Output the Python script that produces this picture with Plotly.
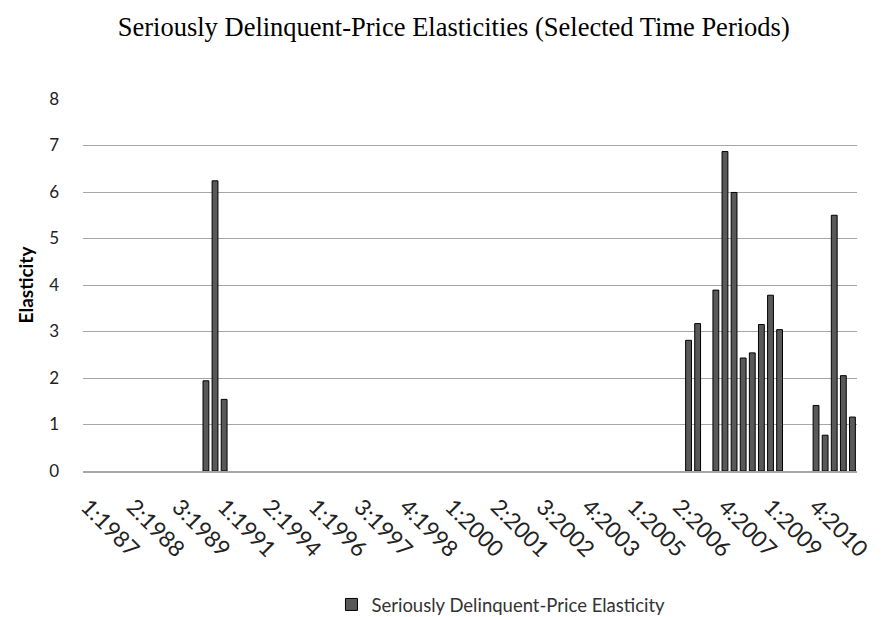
import plotly.graph_objects as go

# Tick labels shown on the category axis (every 5th period)
tick_labels = ["1:1987", "2:1988", "3:1989", "1:1991", "2:1994", "1:1996", "3:1997",
               "4:1998", "1:2000", "2:2001", "3:2002", "4:2003", "1:2005", "2:2006",
               "4:2007", "1:2009", "4:2010"]
label_step = 5
n_periods = 85

# Elasticity values by period index (only periods with a bar)
bar_index = [13, 14, 15,
             66, 67, 69, 70, 71, 72, 73, 74, 75, 76,
             80, 81, 82, 83, 84]
bar_value = [1.94, 6.24, 1.54,
             2.81, 3.17, 3.89, 6.87, 5.99, 2.43, 2.54, 3.15, 3.78, 3.04,
             1.41, 0.77, 5.50, 2.05, 1.16]

values = [None] * n_periods
for i, v in zip(bar_index, bar_value):
    values[i] = v

periods = list(range(n_periods))
tick_positions = [i * label_step for i in range(len(tick_labels))]

fig = go.Figure()
fig.add_trace(go.Bar(
    x=periods, y=values,
    name="Seriously Delinquent-Price Elasticity",
    marker=dict(color="#595959", line=dict(color="#000000", width=1)),
))

fig.update_layout(
    width=874, height=609,
    paper_bgcolor="white", plot_bgcolor="white",
    margin=dict(l=75, r=25, t=91, b=146, autoexpand=False),
    bargap=0.36,
    font=dict(family="Lato, 'Open Sans', sans-serif", color="#222222"),
    title=dict(text="Seriously Delinquent-Price Elasticities (Selected Time Periods)",
               x=0.51, xanchor="center", y=0.969, yanchor="middle",
               font=dict(family="'Liberation Serif', 'Times New Roman', serif", size=26.5, color="#000000")),
    showlegend=True,
    legend=dict(orientation="h", x=0.54, xanchor="center", y=-0.36, yanchor="middle",
                font=dict(size=18.5, color="#333333")),
    xaxis=dict(range=[-0.5, n_periods - 0.5], tickmode="array", automargin=False,
               tickvals=tick_positions, ticktext=tick_labels, tickangle=45,
               tickfont=dict(size=22.5, color="#222222"), ticklabelstandoff=12,
               showgrid=False, showline=True, linecolor="#a6a6a6", linewidth=1.5,
               ticks="", zeroline=False),
    yaxis=dict(range=[0, 8], dtick=1, tickfont=dict(size=17, color="#222222"), automargin=False,
               showgrid=True, gridcolor="#a6a6a6", gridwidth=1.2, zeroline=False,
               ticks="", ticklen=0, showline=False, ticklabelstandoff=23,
               title=dict(text="<b>Elasticity</b>", font=dict(size=19, color="#000000"), standoff=10)),
)

fig.write_html("out.html")
